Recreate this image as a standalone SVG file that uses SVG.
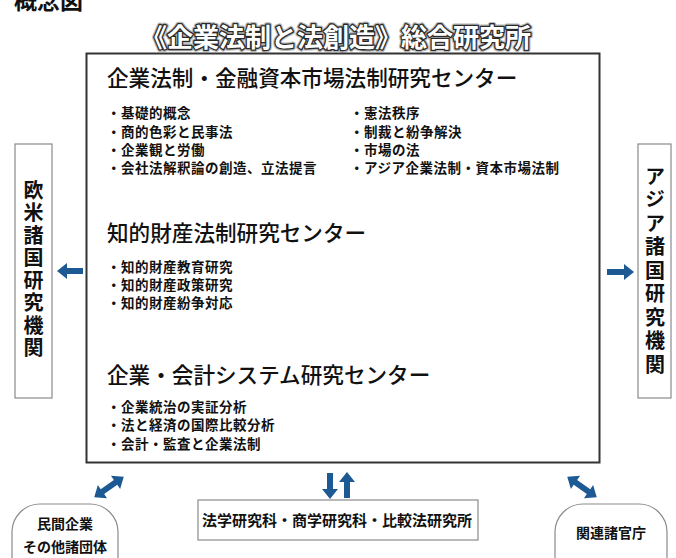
<svg xmlns="http://www.w3.org/2000/svg" width="676" height="558" viewBox="0 0 676 558">
<defs>
<style>
text{font-family:"Noto Sans CJK JP","Noto Sans CJK SC",sans-serif;fill:#111}
.hd{font-size:21.6px;font-weight:500}
.bl{font-size:13.5px;font-weight:bold;letter-spacing:0.5px}
.vt{font-size:20px;font-weight:bold;writing-mode:vertical-rl;text-orientation:upright}
.side{fill:#fff;stroke:#8a8a8a;stroke-width:1.2}
.arr{fill:#1d5a94}
.bt{font-size:14px;font-weight:bold;text-anchor:middle}
.tt{font-size:26px;font-weight:bold;text-anchor:middle}
</style>
</defs>
<rect width="676" height="558" fill="#fff"/>
<text x="14" y="9" style="font-size:23px;font-weight:bold">概念図</text>
<g id="title">
<text class="tt" x="336" y="47" style="fill:#bbb;stroke:#bbb;stroke-width:5;stroke-linejoin:round">《企業法制と法創造》総合研究所</text>
<text class="tt" x="336" y="47" style="fill:#fff;stroke:#2a2a2a;stroke-width:2.6;stroke-linejoin:round;paint-order:stroke">《企業法制と法創造》総合研究所</text>
</g>

<g id="main">
<rect x="86.5" y="53.5" width="513" height="409" fill="#fff" stroke="#333" stroke-width="2"/>
<g id="center1">
<text class="hd" x="107" y="86">企業法制・金融資本市場法制研究センター</text>
<text class="bl" x="107" y="118">・基礎的概念</text>
<text class="bl" x="107" y="137">・商的色彩と民事法</text>
<text class="bl" x="107" y="155">・企業観と労働</text>
<text class="bl" x="107" y="173">・会社法解釈論の創造、立法提言</text>
<text class="bl" x="350" y="118">・憲法秩序</text>
<text class="bl" x="350" y="137">・制裁と紛争解決</text>
<text class="bl" x="350" y="155">・市場の法</text>
<text class="bl" x="350" y="173">・アジア企業法制・資本市場法制</text>
</g>
<g id="center2">
<text class="hd" x="107" y="241">知的財産法制研究センター</text>
<text class="bl" x="107" y="272">・知的財産教育研究</text>
<text class="bl" x="107" y="290">・知的財産政策研究</text>
<text class="bl" x="107" y="308">・知的財産紛争対応</text>
</g>
<g id="center3">
<text class="hd" x="107" y="383">企業・会計システム研究センター</text>
<text class="bl" x="107" y="412">・企業統治の実証分析</text>
<text class="bl" x="107" y="430">・法と経済の国際比較分析</text>
<text class="bl" x="107" y="449">・会計・監査と企業法制</text>
</g>
</g>

<g id="west">
<rect class="side" x="15" y="144" width="37" height="254"/>
<text class="vt" x="33.5" y="180" letter-spacing="2.5">欧米諸国研究機関</text>
</g>
<g id="asia">
<rect class="side" x="638" y="144" width="33" height="254"/>
<text class="vt" x="655" y="166" letter-spacing="3.5">アジア諸国研究機関</text>
</g>
<g id="private">
<rect class="side" x="12" y="504" width="106" height="80" rx="28"/>
<text class="bt" x="65" y="529">民間企業</text>
<text class="bt" x="65" y="552">その他諸団体</text>
</g>
<g id="grad">
<rect class="side" x="198" y="500" width="280" height="40"/>
<text class="bt" x="337" y="526" style="font-size:15px">法学研究科・商学研究科・比較法研究所</text>
</g>
<g id="gov">
<rect class="side" x="555" y="504" width="112" height="80" rx="28"/>
<text class="bt" x="611" y="538">関連諸官庁</text>
</g>

<g id="connectors">
<polygon class="arr" points="57,271 67,263 67,268 83,268 83,274 67,274 67,279"/>
<polygon class="arr" points="634,272 624,264 624,269 607,269 607,275 624,275 624,280"/>
<polygon class="arr" points="330,499 322,489 327,489 327,473 333,473 333,489 338,489"/>
<polygon class="arr" points="347,472 339,482 344,482 344,498 350,498 350,482 355,482"/>
<g transform="translate(109,487) rotate(-35)">
<polygon class="arr" points="-18,0 -8,-8 -8,-3 8,-3 8,-8 18,0 8,8 8,3 -8,3 -8,8"/>
</g>
<g transform="translate(582,487) rotate(35)">
<polygon class="arr" points="-18,0 -8,-8 -8,-3 8,-3 8,-8 18,0 8,8 8,3 -8,3 -8,8"/>
</g>
</g>
</svg>
